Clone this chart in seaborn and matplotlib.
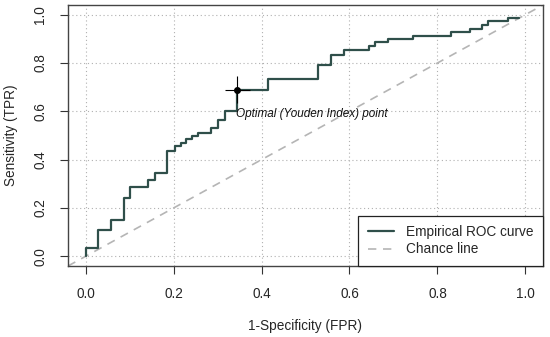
import matplotlib
matplotlib.use("Agg")
import matplotlib.pyplot as plt
import seaborn as sns
import pandas as pd

# ROC step corners (FPR where the step happens, TPR after the step)
fpr = [0.0, 0.0, 0.028, 0.057, 0.087, 0.100, 0.143, 0.158, 0.186, 0.204,
       0.217, 0.229, 0.241, 0.256, 0.286, 0.301, 0.316, 0.345, 0.415, 0.528,
       0.558, 0.588, 0.645, 0.658, 0.688, 0.744, 0.830, 0.873, 0.901, 0.916,
       0.960, 0.986]
tpr = [0.0, 0.033, 0.107, 0.152, 0.240, 0.285, 0.315, 0.346, 0.435, 0.456,
       0.470, 0.484, 0.497, 0.511, 0.532, 0.563, 0.600, 0.690, 0.734, 0.793,
       0.835, 0.855, 0.869, 0.886, 0.900, 0.913, 0.927, 0.942, 0.959, 0.973,
       0.987, 0.987]

# optimal point with its uncertainty
opt_fpr, opt_tpr = 0.345, 0.690
opt_fpr_err, opt_tpr_err = 0.028, 0.055

ticks = [0.0, 0.2, 0.4, 0.6, 0.8, 1.0]
tick_labels = ["0.0", "0.2", "0.4", "0.6", "0.8", "1.0"]

sns.set_style("white")
plt.rcParams['font.family'] = ['Liberation Sans', 'DejaVu Sans']

fig = plt.figure(figsize=(5.5, 3.37), dpi=100)
ax = fig.add_axes([68 / 550, 71 / 337, 475 / 550, 261 / 337])

df = pd.DataFrame({"fpr": fpr, "tpr": tpr})

# grid
for t in ticks:
    ax.axvline(t, color="#b0b0b0", lw=0.8, ls=(0, (1, 2.5)), zorder=0)
    ax.axhline(t, color="#b0b0b0", lw=0.8, ls=(0, (1, 2.5)), zorder=0)

# chance line
ax.axline((0, 0), (1, 1), color="#b5b5b5", lw=1.2, ls=(0, (5, 4)),
          label="Chance line", zorder=1)

sns.lineplot(data=df, x="fpr", y="tpr", ax=ax, estimator=None, sort=False,
             drawstyle="steps-post", color="#2f4f4a", lw=1.6,
             label="Empirical ROC curve", zorder=2)

ax.errorbar([opt_fpr], [opt_tpr], xerr=[opt_fpr_err], yerr=[opt_tpr_err],
            fmt="o", color="black", ms=4, elinewidth=0.8, capsize=0, zorder=3)
ax.text(opt_fpr - 0.003, opt_tpr - 0.103, "Optimal (Youden Index) point",
        style="italic", fontsize=8.5, ha="left", va="center", color="#111111")

ax.set_xlim(-0.04, 1.04)
ax.set_ylim(-0.04, 1.04)
ax.set_xticks(ticks)
ax.set_xticklabels(tick_labels)
ax.set_yticks(ticks)
ax.set_yticklabels(tick_labels)
ax.tick_params(axis="both", direction="out", length=6, width=0.8,
               color="#333333", labelsize=9.8, pad=9, left=True, bottom=True)
plt.setp(ax.get_yticklabels(), rotation=90, va="center", ha="right")

for s in ax.spines.values():
    s.set_color("#444444")
    s.set_linewidth(1.0)

ax.set_xlabel("1-Specificity (FPR)", fontsize=9.8, labelpad=13)
ax.set_ylabel("Sensitivity (TPR)", fontsize=9.8, labelpad=11)

handles, labels = ax.get_legend_handles_labels()
order = [labels.index("Empirical ROC curve"), labels.index("Chance line")]
leg = ax.legend([handles[i] for i in order], [labels[i] for i in order],
                loc="lower right", borderaxespad=0, fancybox=False,
                framealpha=1, edgecolor="#222222", fontsize=9.8,
                handlelength=1.9, handletextpad=0.9, borderpad=0.7,
                labelspacing=0.25)
leg.get_frame().set_linewidth(0.9)

plt.savefig("out.png", dpi=100)
